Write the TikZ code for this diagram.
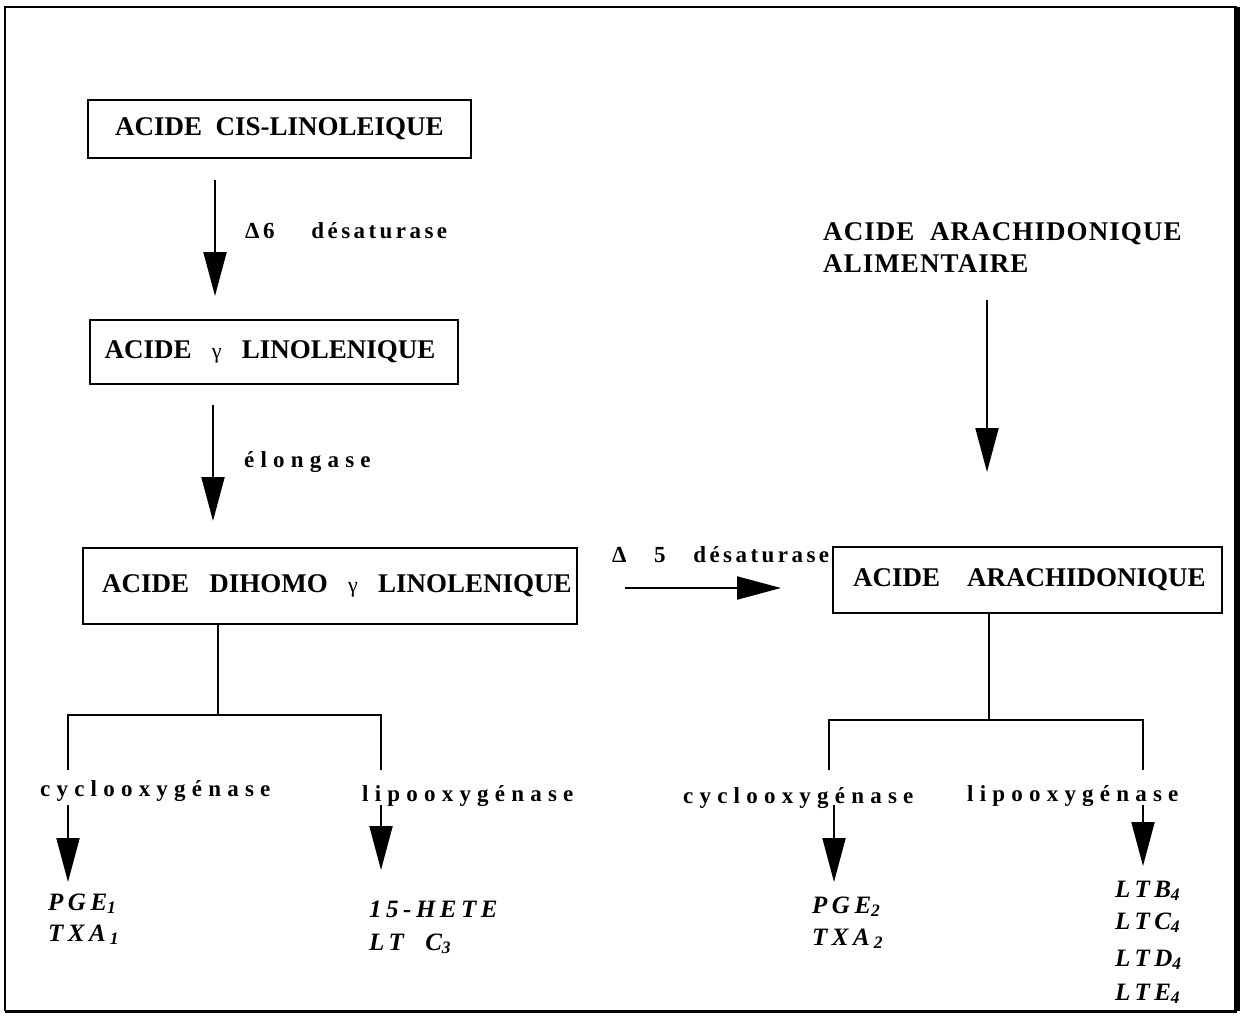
\documentclass[tikz,border=0pt]{standalone}
\usepackage{fontspec}
\usepackage{xcolor}
\usepackage{tikz}
\usetikzlibrary{arrows.meta}
\setmainfont{Liberation Serif}
\newfontfamily\widefont[LetterSpace=27]{Liberation Serif Bold}
\newfontfamily\narrowfont[LetterSpace=15]{Liberation Serif Bold}
\newfontfamily\sourcefont[LetterSpace=4]{Liberation Serif Bold}
\newfontfamily\prodfont[LetterSpace=18]{Liberation Serif Bold Italic}
\tikzstyle{box}=[draw=black, line width=2pt, shape=rectangle, inner sep=0pt, font=\fontsize{27}{30}\selectfont\bfseries]
\tikzstyle{enzyme}=[anchor=base west, inner sep=0pt, font=\fontsize{23}{28}\selectfont\widefont]
\tikzstyle{narrow enzyme}=[anchor=base west, inner sep=0pt, font=\fontsize{23}{28}\selectfont\narrowfont]
\tikzstyle{source}=[anchor=base west, inner sep=0pt, font=\fontsize{27}{32}\selectfont\sourcefont]
\tikzstyle{product}=[anchor=base west, inner sep=0pt, font=\fontsize{25}{30}\selectfont\prodfont]
\tikzstyle{arrow edge}=[-{Triangle[length=44pt,width=23pt]}, line width=2pt]
\tikzstyle{plain edge}=[-, line width=2pt]
\pgfdeclarelayer{nodelayer}
\pgfdeclarelayer{edgelayer}
\pgfsetlayers{edgelayer,nodelayer,main}

\begin{document}
\begin{tikzpicture}[x=1pt, y=-1pt]
	\useasboundingbox (0, 0) rectangle (1245, 1015);
	\begin{pgfonlayer}{nodelayer}
		% frame
		\coordinate (f0) at (5, 7);
		\coordinate (f1) at (1237, 7);
		\coordinate (f2) at (1237, 1011);
		\coordinate (f3) at (5, 1011);
		% boxes
		\node [style=box, minimum width=383, minimum height=58] (0) at (279.5, 129) {ACIDE\ \ CIS-LINOLEIQUE};
		\node [style=box, minimum width=368, minimum height=64] (1) at (274, 352) {\hspace*{-8pt}ACIDE\ \ \ {\mdseries\fontsize{22}{26}\selectfont γ}\ \ \ LINOLENIQUE};
		\node [style=box, minimum width=494, minimum height=76] (2) at (330, 586) {\hspace*{14pt}ACIDE\ \ \ DIHOMO\ \ \ {\mdseries\fontsize{22}{26}\selectfont γ}\ \ \ LINOLENIQUE};
		\node [style=box, minimum width=389, minimum height=66] (3) at (1027.5, 580) {\hspace*{4pt}ACIDE\ \ \ \ ARACHIDONIQUE};
		% enzymes
		\node [style=narrow enzyme] (4) at (245, 238) {Δ6\ \ \ \ désaturase};
		\node [style=enzyme] (5) at (244, 467) {élongase};
		\node [style=narrow enzyme] (6) at (612, 562) {Δ\ \ \ 5\ \ \ désaturase};
		\node [style=source] (7) at (823, 240) {ACIDE\ \ ARACHIDONIQUE};
		\node [style=source] (8) at (823, 272) {ALIMENTAIRE};
		\node [style=enzyme] (9) at (40, 796) {cyclooxygénase};
		\node [style=enzyme] (10) at (362, 801) {lipooxygénase};
		\node [style=enzyme] (11) at (683, 803) {cyclooxygénase};
		\node [style=enzyme] (12) at (967, 801) {lipooxygénase};
		% products
		\node [style=product] (13) at (48, 910) {PGE\textsubscript{1}};
		\node [style=product] (14) at (48, 941) {TXA\,\textsubscript{1}};
		\node [style=product] (15) at (369, 917) {15-HETE};
		\node [style=product] (16) at (369, 950) {LT\ \ C\textsubscript{3}};
		\node [style=product] (17) at (812, 913) {PGE\textsubscript{2}};
		\node [style=product] (18) at (812, 945) {TXA\,\textsubscript{2}};
		\node [style=product] (19) at (1115, 897) {LTB\textsubscript{4}};
		\node [style=product] (20) at (1115, 929) {LTC\textsubscript{4}};
		\node [style=product] (21) at (1115, 966) {LTD\textsubscript{4}};
		\node [style=product] (22) at (1115, 1000) {LTE\textsubscript{4}};
		% arrow ends and branch points
		\coordinate (a0) at (215, 180);
		\coordinate (a1) at (215, 296);
		\coordinate (a2) at (213, 405);
		\coordinate (a3) at (213, 521);
		\coordinate (a4) at (625, 588);
		\coordinate (a5) at (781, 588);
		\coordinate (a6) at (987, 300);
		\coordinate (a7) at (987, 472);
		\coordinate (j0) at (218, 715);
		\coordinate (j1) at (68, 715);
		\coordinate (j2) at (381, 715);
		\coordinate (j3) at (989, 720);
		\coordinate (j4) at (829, 720);
		\coordinate (j5) at (1143, 720);
		\coordinate (t0) at (68, 770);
		\coordinate (t1) at (381, 770);
		\coordinate (t2) at (829, 770);
		\coordinate (t3) at (1143, 770);
		\coordinate (p0) at (68, 805);
		\coordinate (p1) at (68, 882);
		\coordinate (p2) at (381, 805);
		\coordinate (p3) at (381, 870);
		\coordinate (p4) at (834, 805);
		\coordinate (p5) at (834, 882);
		\coordinate (p6) at (1143, 805);
		\coordinate (p7) at (1143, 866);
	\end{pgfonlayer}
	\begin{pgfonlayer}{edgelayer}
		\draw [line width=2pt] (f3) -- (f0) -- (f1);
		\draw [line width=6pt] (f1) -- (f2);
		\draw [line width=3pt] (f2) -- (f3);
		\draw [style=arrow edge] (a0) to (a1);
		\draw [style=arrow edge] (a2) to (a3);
		\draw [style=arrow edge] (a4) to (a5);
		\draw [style=arrow edge] (a6) to (a7);
		\draw [style=plain edge] (2.south -| j0) to (j0);
		\draw [style=plain edge] (t0) to (j1) to (j2) to (t1);
		\draw [style=plain edge] (3.south -| j3) to (j3);
		\draw [style=plain edge] (t2) to (j4) to (j5) to (t3);
		\draw [style=arrow edge] (p0) to (p1);
		\draw [style=arrow edge] (p2) to (p3);
		\draw [style=arrow edge] (p4) to (p5);
		\draw [style=arrow edge] (p6) to (p7);
	\end{pgfonlayer}
\end{tikzpicture}
\end{document}
